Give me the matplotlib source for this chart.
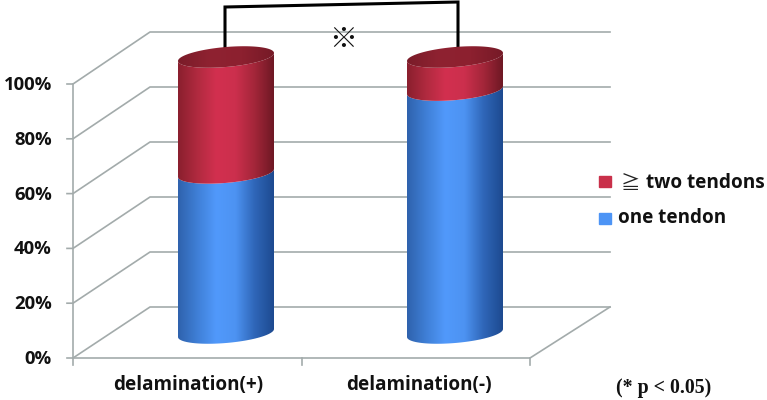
import numpy as np
import matplotlib.pyplot as plt
from matplotlib.colors import LinearSegmentedColormap
from matplotlib.path import Path
from matplotlib.patches import PathPatch, Rectangle

categories = ['delamination(+)', 'delamination(-)']
one_tendon = [58, 88]
two_tendons = [42, 12]
tick_values = [0, 20, 40, 60, 80, 100]
tick_labels = ['0%', '20%', '40%', '60%', '80%', '100%']

plt.rcParams['font.family'] = ['Open Sans', 'Noto Sans CJK JP', 'DejaVu Sans']

GRID = '#a3abab'
blue_map = LinearSegmentedColormap.from_list('b', ['#2f62ad', '#3f7fd6', '#5199fb', '#4d93f2', '#2f66b8', '#1d4a90'])
red_map = LinearSegmentedColormap.from_list('r', ['#8a1f2e', '#b02a3f', '#d2304f', '#cc2f4d', '#a32639', '#6e1824'])
top_map = LinearSegmentedColormap.from_list('t', ['#7a1c29', '#8f2231', '#8c202f', '#761a27'])

fig = plt.figure(figsize=(7.67, 4.0), dpi=100)
ax = fig.add_axes([0, 0, 1, 1])
ax.set_xlim(0, 767)
ax.set_ylim(400, 0)
ax.axis('off')


# the pixels of the picture are used as data units, value -> pixel height here
def front_y(v):
    return 358 - v * 2.74


def back_y(v):
    return 307 - v * 2.75


def cyl_y(v):
    return 333 - v * 2.76


def arc(cx, cy, t):
    return cx + 48 * np.cos(t), cy + 10 * np.sin(t) - 4 * np.cos(t)


def side_patch(cx, v0, v1, cmap):
    t = np.linspace(0, np.pi, 60)
    xb, yb = arc(cx, cyl_y(v0), t)
    xt, yt = arc(cx, cyl_y(v1), t[::-1])
    verts = np.column_stack([np.r_[xb, xt], np.r_[yb, yt]])
    grad = np.linspace(0, 1, 256).reshape(1, -1)
    im = ax.imshow(grad, cmap=cmap, extent=[cx - 48, cx + 48, 400, 0], aspect='auto', zorder=3)
    im.set_clip_path(PathPatch(Path(np.r_[verts, verts[:1]]), transform=ax.transData))


def top_patch(cx, v):
    t = np.linspace(0, 2 * np.pi, 120)
    x, y = arc(cx, cyl_y(v), t)
    grad = np.linspace(0, 1, 256).reshape(1, -1)
    im = ax.imshow(grad, cmap=top_map, extent=[cx - 48, cx + 48, 400, 0], aspect='auto', zorder=4)
    im.set_clip_path(PathPatch(Path(np.column_stack([x, y])), transform=ax.transData))


# walls and floor
for v, lab in zip(tick_values, tick_labels):
    ax.plot([67, 73, 150, 610], [front_y(v), front_y(v), back_y(v), back_y(v)], color=GRID, lw=1.2, zorder=1)
    ax.text(52, front_y(v) + 1, lab, ha='right', va='center', fontsize=13.3, fontweight='bold', color='#111111')
ax.plot([73, 73], [front_y(100), 365], color=GRID, lw=1.2, zorder=1)
ax.plot([73, 530, 610], [358, 358, 307], color=GRID, lw=1.2, zorder=1)
for x in [302, 530]:
    ax.plot([x, x], [358, 365], color=GRID, lw=1.2, zorder=1)

# cylinders
centers = [226, 455]
label_x = [188, 419]
for cx, lx, name, a, b in zip(centers, label_x, categories, one_tendon, two_tendons):
    side_patch(cx, 0, a, blue_map)
    side_patch(cx, a, a + b, red_map)
    top_patch(cx, a + b)
    ax.text(lx, 385, name, ha='center', va='center', fontsize=13.6, fontweight='bold', color='#111111')

# significance bracket
ax.plot([225, 225, 458, 458], [47, 7, 2, 47], color='black', lw=2.2, solid_joinstyle='miter', zorder=2)
ax.text(343, 40, '※', ha='center', va='center', fontsize=20, color='#111111',
        family=['Noto Sans CJK JP', 'DejaVu Sans'])

# legend
ax.add_patch(Rectangle((599, 176), 12, 11, color='#c9304a', zorder=3))
ax.add_patch(Rectangle((599, 213), 12, 11, color='#4d94f5', zorder=3))
ax.text(621, 183, '≧', ha='left', va='center', fontsize=14, color='#222222',
        family=['Noto Sans CJK JP', 'DejaVu Sans'])
ax.text(646, 183, 'two tendons', ha='left', va='center', fontsize=13.7, fontweight='bold', color='#111111')
ax.text(618, 218, 'one tendon', ha='left', va='center', fontsize=13.6, fontweight='bold', color='#111111')

ax.text(616, 388, '(* p < 0.05)', ha='left', va='center', fontsize=14.3, fontweight='bold',
        family='Liberation Serif', color='#111111')

ax.set_xlim(0, 767)
ax.set_ylim(400, 0)
fig.savefig('out.png', dpi=100)
